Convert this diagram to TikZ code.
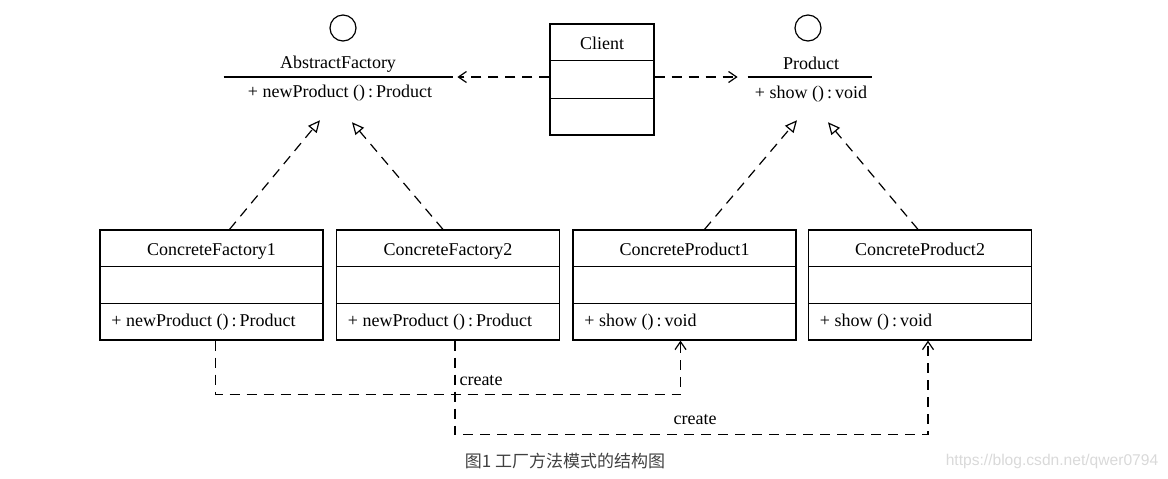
\documentclass[tikz,border=0pt]{standalone}
\usepackage{fontspec}
\setmainfont{Liberation Serif}
\newfontfamily\cjkfont{Noto Sans CJK SC}
\newfontfamily\wmfont{Liberation Sans}
\usetikzlibrary{calc,positioning,arrows.meta}

\begin{document}
\begin{tikzpicture}[x=0.5pt,y=-0.5pt,
    every node/.style={font=\fontsize{9}{11}\selectfont},
    cls/.style={draw,line width=0.6pt,minimum width=111.5pt,minimum height=55pt,inner sep=0pt},
    ttl/.style={text height=6.5pt,text depth=2pt,yshift=-1.5pt},
    ifc/.style={circle,draw,line width=0.6pt,minimum size=13pt,inner sep=0pt},
    ifl/.style={inner sep=0pt,minimum height=0pt},
    dep/.style={line width=0.6pt,dash pattern=on 5pt off 3.5pt,-{Straight Barb[length=4pt,width=5.5pt]}},
    impl/.style={line width=0.6pt,dash pattern=on 5pt off 3.5pt,-{Triangle[open,length=6pt,width=5.5pt]}}]
  \useasboundingbox (0,0) rectangle (1168,478);

  % interfaces
  \node[ifc] (afc) at (343,28) {};
  \node (afn) at (338,64) {AbstractFactory};
  \node[ifl,minimum width=114.5pt] (afl) at (338.5,77) {};
  \draw[line width=0.6pt] (afl.west) -- (afl.east);
  \node (afm) at (340,93) {+ newProduct ()\,:\,Product};

  \node[ifc] (pdc) at (808,28) {};
  \node (pdn) at (811,63) {Product};
  \node[ifl,minimum width=62pt] (pdl) at (810,77) {};
  \draw[line width=0.6pt] (pdl.west) -- (pdl.east);
  \node (pdm) at (811,94) {+ show ()\,:\,void};

  % client
  \node[cls,minimum width=52pt,minimum height=55.5pt] (cl) at (602,79.5) {};
  \node[yshift=-0.5pt] (cln) at ($(cl.north)!1/6!(cl.south)$) {Client};
  \draw[dep] (cl.west |- afl) -- ([xshift=2pt]afl.east);
  \draw[dep] (cl.east |- pdl) -- ([xshift=-5pt]pdl.west);

  % concrete classes
  \node[cls] (cf1) at (211.5,285) {};
  \node[cls] (cf2) at (448,285) {};
  \node[cls] (cp1) at (684.5,285) {};
  \node[cls] (cp2) at (920,285) {};

  \node[ttl] (cf1n) at ($(cf1.north)!1/6!(cf1.south)$) {ConcreteFactory1};
  \node[ttl] (cf2n) at ($(cf2.north)!1/6!(cf2.south)$) {ConcreteFactory2};
  \node[ttl] (cp1n) at ($(cp1.north)!1/6!(cp1.south)$) {ConcreteProduct1};
  \node[ttl] (cp2n) at ($(cp2.north)!1/6!(cp2.south)$) {ConcreteProduct2};

  \node[anchor=west,xshift=2.5pt] (cf1m) at ($(cf1.north west)!5/6!(cf1.south west)$) {+ newProduct ()\,:\,Product};
  \node[anchor=west,xshift=2.5pt] (cf2m) at ($(cf2.north west)!5/6!(cf2.south west)$) {+ newProduct ()\,:\,Product};
  \node[anchor=west,xshift=2.5pt] (cp1m) at ($(cp1.north west)!5/6!(cp1.south west)$) {+ show ()\,:\,void};
  \node[anchor=west,xshift=2.5pt] (cp2m) at ($(cp2.north west)!5/6!(cp2.south west)$) {+ show ()\,:\,void};

  \foreach \b in {cl,cf1,cf2,cp1,cp2}{
    \draw[line width=0.6pt] ($(\b.north west)!1/3!(\b.south west)$) -- ($(\b.north east)!1/3!(\b.south east)$);
    \draw[line width=0.6pt] ($(\b.north west)!2/3!(\b.south west)$) -- ($(\b.north east)!2/3!(\b.south east)$);
  }

  % realization
  \draw[impl] ([xshift=9pt]cf1.north) -- ([xshift=-10pt,yshift=-6pt]afm.south);
  \draw[impl] ([xshift=-2.5pt]cf2.north) -- ([xshift=6pt,yshift=-7pt]afm.south);
  \draw[impl] ([xshift=10pt]cp1.north) -- ([xshift=-7pt,yshift=-5.5pt]pdm.south);
  \draw[impl] ([xshift=-1pt]cp2.north) -- ([xshift=8.5pt,yshift=-6.5pt]pdm.south);

  % create
  \draw[dep] ([xshift=2pt]cf1.south) -- ++(0,54) -| ([xshift=-2pt]cp1.south);
  \node (cr1) at (481,381) {create};
  \draw[dep] ([xshift=3.5pt]cf2.south) -- ++(0,94) -| ([xshift=4pt]cp2.south);
  \node (cr2) at (695,420) {create};

  \node[font=\cjkfont\fontsize{8.5}{10}\selectfont,text=black!75] (cap) at (565,461) {图1 工厂方法模式的结构图};
  \node[font=\wmfont\fontsize{7.8}{10}\selectfont,text=black!15] (wm) at (1052,461) {https://blog.csdn.net/qwer0794};
\end{tikzpicture}
\end{document}
